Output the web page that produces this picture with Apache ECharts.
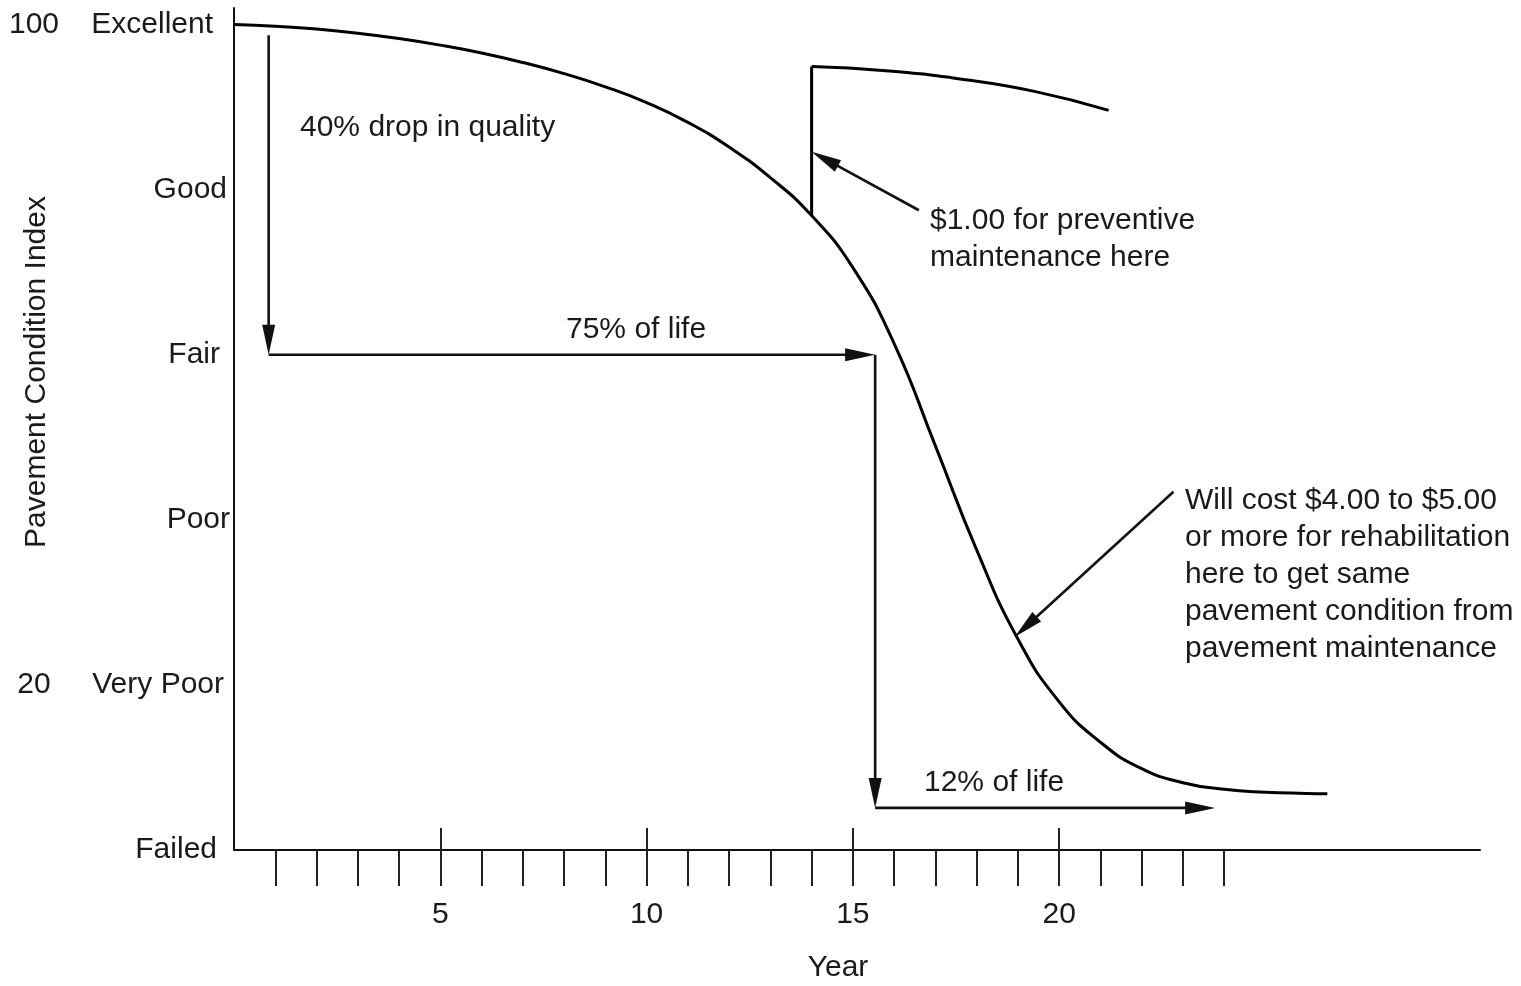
<!DOCTYPE html>
<html><head><meta charset="utf-8">
<script src="https://cdn.jsdelivr.net/npm/echarts@6/dist/echarts.min.js"></script>
<style>html,body{margin:0;padding:0;background:#fff}#c{width:1521px;height:986px}</style>
</head><body><div id="c"></div>
<script>
// ---- data ----
const years = [0, 1, 2, 3, 4, 5, 6, 7, 8, 9, 10, 11, 12, 13, 14, 15, 16, 17, 18, 19, 20, 21, 22, 23, 24, 25, 26, 26.5];
const pci   = [100, 99.8, 99.45, 98.95, 98.3, 97.5, 96.55, 95.4, 94.05, 92.45, 90.55, 88.15, 85.15, 81.45, 76.85, 70.55, 61.35, 48.95, 36.35, 25.55, 17.95, 13.05, 9.85, 8.15, 7.35, 7.0, 6.85, 6.8];
const maintJumpYears = [14, 14];
const maintJumpPci = [76.8, 94.9];
const maintYears = [14, 15.8, 17.6, 19.4, 21.2];
const maintPci = [94.9, 94.4, 93.4, 91.9, 89.6];
const conditionValues = [0, 20, 40, 60, 80, 100];
const conditionNames = ['Failed', 'Very Poor', 'Poor', 'Fair', 'Good', 'Excellent'];
const indexValues = [20, 100];
const yearTicks = [1,2,3,4,5,6,7,8,9,10,11,12,13,14,15,16,17,18,19,20,21,22,23,24];
const yearLabels = [5, 10, 15, 20];
const arrowFrom = [[0.84, 98.7], [0.84, 60], [15.54, 60], [15.54, 5.1], [16.6, 77.5], [22.77, 43.4]];
const arrowTo   = [[0.84, 60], [15.54, 60], [15.54, 5.1], [23.78, 5.1], [14.0, 84.6], [18.92, 25.8]];

// ---- chart ----
const FONT = '"Liberation Sans", Arial, sans-serif';
const INK = '#1a1a1a';
const chart = echarts.init(document.getElementById('c'), null, {renderer: 'canvas'});

const richPad = {Excellent: 17, Good: 3, Fair: 10, Poor: 0, 'Very Poor': 6, Failed: 13};
const rich = {};
conditionNames.forEach((n, i) => {
  rich['r' + i] = {fontSize: 30, fontFamily: FONT, color: INK, padding: [0, richPad[n], 0, 0]};
});

function renderArrow(params, api) {
  const a = api.coord([api.value(0), api.value(1)]);
  const b = api.coord([api.value(2), api.value(3)]);
  const dx = b[0] - a[0], dy = b[1] - a[1];
  const len = Math.sqrt(dx * dx + dy * dy);
  const ux = dx / len, uy = dy / len;
  const hl = 30, hw = 6.5;
  const bx = b[0] - ux * hl, by = b[1] - uy * hl;
  return {
    type: 'group',
    children: [
      {type: 'line', shape: {x1: a[0], y1: a[1], x2: bx + ux * 6, y2: by + uy * 6},
       style: {stroke: '#111', lineWidth: 2.6}},
      {type: 'polygon', shape: {points: [[b[0], b[1]], [bx - uy * hw, by + ux * hw], [bx + uy * hw, by - ux * hw]]},
       style: {fill: '#111'}}
    ]
  };
}

const option = {
  backgroundColor: '#fff',
  animation: false,
  textStyle: {fontFamily: FONT},
  grid: {left: 234, right: 41, top: 8, bottom: 136, outerBoundsMode: 'none', containLabel: false},
  xAxis: [{
    type: 'value', min: 0, max: 30.2,
    name: 'Year', nameLocation: 'middle', nameGap: 103,
    nameTextStyle: {fontSize: 30, color: INK, fontFamily: FONT, padding: [0, 38, 0, 0]},
    axisLine: {show: true, lineStyle: {color: '#111', width: 2}},
    axisTick: {show: true, customValues: yearTicks, length: 36, lineStyle: {color: '#222', width: 2}},
    axisLabel: {show: true, customValues: yearLabels, margin: 50, fontSize: 30, color: INK, fontFamily: FONT},
    splitLine: {show: false}
  }, {
    type: 'value', min: 0, max: 30.2, position: 'bottom',
    axisLine: {show: false},
    axisTick: {show: true, inside: true, customValues: yearLabels, length: 22, lineStyle: {color: '#222', width: 2}},
    axisLabel: {show: false},
    splitLine: {show: false}
  }],
  yAxis: [{
    type: 'value', min: 0, max: 102,
    name: 'Pavement Condition Index', nameLocation: 'middle', nameGap: 182,
    nameTextStyle: {fontSize: 30, color: INK, fontFamily: FONT, padding: [0, 0, 0, 114]},
    axisLine: {show: true, lineStyle: {color: '#111', width: 2}},
    axisTick: {show: false},
    axisLabel: {
      show: true, customValues: conditionValues, margin: 4, align: 'right',
      formatter: v => { const i = conditionValues.indexOf(v); return '{r' + i + '|' + conditionNames[i] + '}'; },
      rich: rich
    },
    splitLine: {show: false}
  }, {
    type: 'value', min: 0, max: 102, position: 'left',
    axisLine: {show: false}, axisTick: {show: false}, splitLine: {show: false},
    axisLabel: {show: true, customValues: indexValues, margin: 200, align: 'center',
      fontSize: 30, color: INK, fontFamily: FONT}
  }],
  series: [{
    name: 'PCI', type: 'line', smooth: 0.5, symbol: 'none',
    data: years.map((y, i) => [y, pci[i]]),
    lineStyle: {color: '#000', width: 3}
  }, {
    name: 'Maintenance jump', type: 'line', symbol: 'none',
    data: maintJumpYears.map((y, i) => [y, maintJumpPci[i]]),
    lineStyle: {color: '#000', width: 3}
  }, {
    name: 'After maintenance', type: 'line', smooth: 0.5, symbol: 'none',
    data: maintYears.map((y, i) => [y, maintPci[i]]),
    lineStyle: {color: '#000', width: 3}
  }, {
    name: 'Arrows', type: 'custom', renderItem: renderArrow, clip: false,
    encode: {x: [0, 2], y: [1, 3]},
    data: arrowFrom.map((f, i) => [f[0], f[1], arrowTo[i][0], arrowTo[i][1]])
  }],
  graphic: [
    {type: 'text', x: 300, y: 128, style: {text: '40% drop in quality', font: '30px ' + FONT, fill: INK, verticalAlign: 'middle'}},
    {type: 'text', x: 566, y: 330, style: {text: '75% of life', font: '30px ' + FONT, fill: INK, verticalAlign: 'middle'}},
    {type: 'text', x: 924, y: 783, style: {text: '12% of life', font: '30px ' + FONT, fill: INK, verticalAlign: 'middle'}},
    {type: 'text', x: 930, y: 202, style: {text: '$1.00 for preventive\nmaintenance here', font: '30px ' + FONT, fill: INK, verticalAlign: 'top', lineHeight: 37}},
    {type: 'text', x: 1185, y: 482, style: {text: 'Will cost $4.00 to $5.00\nor more for rehabilitation\nhere to get same\npavement condition from\npavement maintenance', font: '30px ' + FONT, fill: INK, verticalAlign: 'top', lineHeight: 37}}
  ]
};
chart.setOption(option);
</script>
</body></html>
